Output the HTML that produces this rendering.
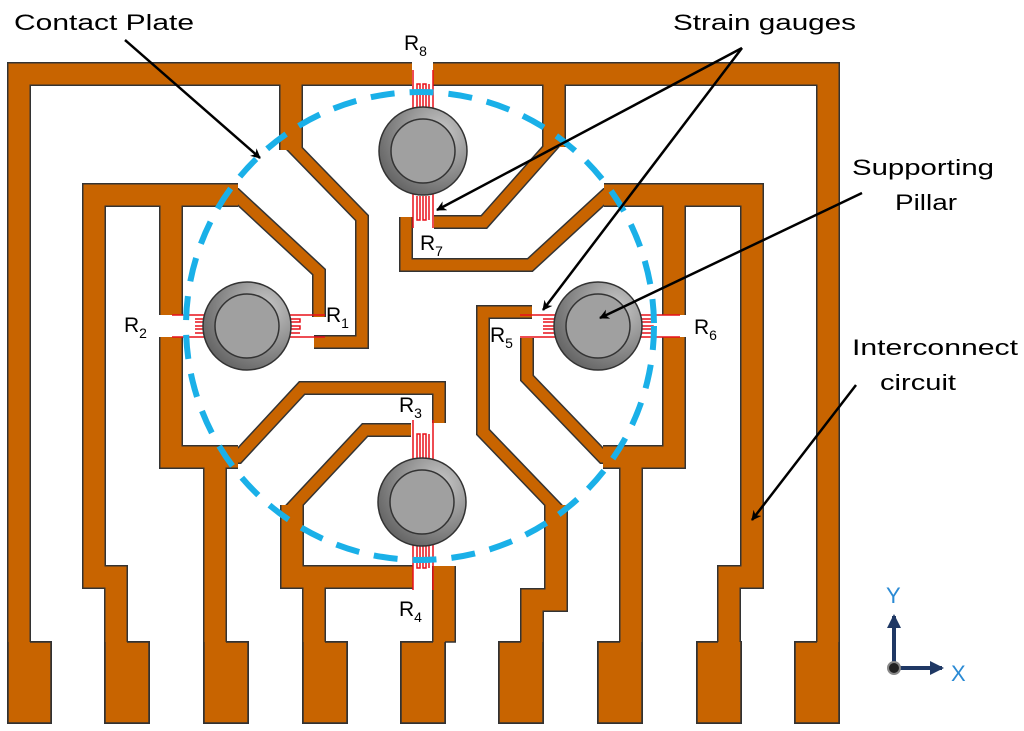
<!DOCTYPE html>
<html><head><meta charset="utf-8"><style>html,body{margin:0;padding:0;background:#fff}svg{display:block}</style></head>
<body>
<svg width="1024" height="731" viewBox="0 0 1024 731" xmlns="http://www.w3.org/2000/svg" font-family="Liberation Sans, sans-serif">
<defs>
<radialGradient id="pg" cx="0.7" cy="0.3" r="0.9"><stop offset="0" stop-color="#c8c8c8"/><stop offset="1" stop-color="#555"/></radialGradient>
<marker id="ah" markerWidth="10" markerHeight="10" refX="9" refY="5" orient="auto" markerUnits="userSpaceOnUse"><path d="M0,0 L10,5 L0,10 L3,5 z" fill="#000"/></marker>
<marker id="ab" markerWidth="14" markerHeight="14" refX="12" refY="7" orient="auto" markerUnits="userSpaceOnUse"><path d="M0,0 L14,7 L0,14 z" fill="#1f3864"/></marker>
<g id="w22">
<path d="M19,650 L19,74 L412,74"/>
<path d="M433,74 L828,74 L828,650"/>
<path d="M291,64 L291,150"/>
<path d="M554,64 L554,147"/>
<path d="M238,195 L94,195 L94,577 L116,577 L116,650"/>
<path d="M171,185 L171,315"/>
<path d="M604,195 L752,195 L752,577 L729,577 L729,650"/>
<path d="M674,185 L674,315"/>
<path d="M171,337 L171,457 L238,457"/>
<path d="M215,447 L215,650"/>
<path d="M674,337 L674,457 L603,457"/>
<path d="M631,447 L631,650"/>
<path d="M292,505 L292,577 L413,577"/>
<path d="M314,567 L314,650"/>
<path d="M444,566 L444,642"/>
<path d="M556,505 L556,600 L532,600 L532,650"/>
</g>
<g id="w14">
<path d="M291,138 L291,145 L362,218 L362,342 L314,342"/>
<path d="M228,195 L236,195 L319,272 L319,317"/>
<path d="M554,135 L554,143 L484,222 L434,222"/>
<path d="M406,217 L406,265 L530,265 L606,195 L614,195"/>
<path d="M230,457 L238,457 L302,388 L439,388 L439,423"/>
<path d="M411,430 L365,430 L292,508 L292,516"/>
<path d="M611,457 L603,457 L527,378 L527,338"/>
<path d="M532,312 L483,312 L483,432 L556,508 L556,516"/>
</g>
<g id="pads">
<rect x="8" y="642" width="43" height="81"/><rect x="105" y="642" width="44" height="81"/>
<rect x="204" y="642" width="44" height="81"/><rect x="303" y="642" width="44" height="81"/>
<rect x="401" y="642" width="44" height="81"/><rect x="499" y="642" width="44" height="81"/>
<rect x="598" y="642" width="44" height="81"/><rect x="697" y="642" width="44" height="81"/>
<rect x="795" y="642" width="44" height="81"/>
</g>
</defs>
<use href="#pads" fill="#c86400" stroke="#333" stroke-width="2"/>
<g fill="none" stroke-linejoin="miter" stroke-linecap="butt">
<use href="#w22" stroke="#333" stroke-width="24"/>
<use href="#w14" stroke="#333" stroke-width="14"/>
</g>
<g fill="none" stroke-linejoin="miter" stroke-linecap="butt">
<use href="#w22" stroke="#c86400" stroke-width="21"/>
<use href="#w14" stroke="#c86400" stroke-width="11"/>
</g>
<use href="#pads" fill="#c86400" stroke="none"/>
<g fill="none" stroke="#333" stroke-width="1.5">
<path d="M8,642 V723 H51 V642 M105,642 V723 H149 V642 M204,642 V723 H248 V642 M303,642 V723 H347 V642 M401,642 V723 H445 V642 M499,642 V723 H543 V642 M598,642 V723 H642 V642 M697,642 V723 H741 V642 M795,642 V723 H839 V642"/>
<path d="M30,642 H51 M127,642 H149 M226,642 H248 M325,642 H347 M401,642 H433 M445,642 H456 M499,642 H521 M598,642 H620 M697,642 H718 M795,642 H817"/>
</g>
<!-- strain gauges -->
<g stroke="#e8101a" stroke-width="1.5" fill="none">
<path d="M413,70 V110 M433,70 V110 M413,193 V228 M433,193 V228"/>
<path d="M417,108 V84 H420 V108 M423,108 V84 H426 V108 M429,108 V84"/>
<path d="M417,196 V220 H420 V196 M423,196 V220 H426 V196 M429,196 V220"/>
<path d="M172,315 H206 M172,337 H206 M288,315 H325 M288,337 H325"/>
<path d="M195,319 H212 V322 H195 M195,326 H212 V329 H195 M195,333 H212"/>
<path d="M283,319 H300 V322 H283 M283,326 H300 V329 H283 M283,333 H300"/>
<path d="M520,315 H558 M520,337 H558 M638,315 H680 M638,337 H680"/>
<path d="M543,319 H560 V322 H543 M543,326 H560 V329 H543 M543,333 H560"/>
<path d="M636,319 H653 V322 H636 M636,326 H653 V329 H636 M636,333 H653"/>
<path d="M413,420 V460 M433,420 V460 M413,544 V590 M433,544 V590"/>
<path d="M417,458 V434 H420 V458 M423,458 V434 H426 V458 M429,458 V434"/>
<path d="M417,546 V568 H420 V546 M423,546 V568 H426 V546 M429,546 V568"/>
</g>
<!-- pillars -->
<g stroke="#333" stroke-width="1.5">
<circle cx="423" cy="151" r="44" fill="url(#pg)"/><circle cx="423" cy="151" r="32" fill="#a0a0a0"/>
<circle cx="247" cy="326" r="44" fill="url(#pg)"/><circle cx="247" cy="326" r="32" fill="#a0a0a0"/>
<circle cx="598" cy="326" r="44" fill="url(#pg)"/><circle cx="598" cy="326" r="32" fill="#a0a0a0"/>
<circle cx="422" cy="502" r="44" fill="url(#pg)"/><circle cx="422" cy="502" r="32" fill="#a0a0a0"/>
</g>
<!-- dashed contact plate -->
<circle cx="420" cy="326" r="234" fill="none" stroke="#1ab0e8" stroke-width="6" stroke-dasharray="24 15"/>
<!-- arrows -->
<g stroke="#000" stroke-width="2.5" fill="none" marker-end="url(#ah)">
<line x1="125" y1="40" x2="260" y2="158"/>
<line x1="742" y1="48" x2="437" y2="210"/>
<line x1="742" y1="48" x2="543" y2="310"/>
<line x1="862" y1="193" x2="600" y2="318"/>
<line x1="856" y1="385" x2="752" y2="520"/>
</g>
<!-- labels -->
<g font-size="22" fill="#000">
<text x="14" y="30" textLength="180" lengthAdjust="spacingAndGlyphs">Contact Plate</text>
<text x="673" y="30" textLength="183" lengthAdjust="spacingAndGlyphs">Strain gauges</text>
<text x="852" y="175" textLength="142" lengthAdjust="spacingAndGlyphs">Supporting</text>
<text x="895" y="210" textLength="62" lengthAdjust="spacingAndGlyphs">Pillar</text>
<text x="852" y="355" textLength="166" lengthAdjust="spacingAndGlyphs">Interconnect</text>
<text x="880" y="390" textLength="76" lengthAdjust="spacingAndGlyphs">circuit</text>
</g>
<g font-size="21" fill="#000">
<text x="404" y="50">R<tspan font-size="14" dy="6">8</tspan></text>
<text x="420" y="250">R<tspan font-size="14" dy="6">7</tspan></text>
<text x="326" y="322">R<tspan font-size="14" dy="6">1</tspan></text>
<text x="124" y="332">R<tspan font-size="14" dy="6">2</tspan></text>
<text x="399" y="412">R<tspan font-size="14" dy="6">3</tspan></text>
<text x="399" y="616">R<tspan font-size="14" dy="6">4</tspan></text>
<text x="490" y="342">R<tspan font-size="14" dy="6">5</tspan></text>
<text x="694" y="334">R<tspan font-size="14" dy="6">6</tspan></text>
</g>
<!-- axes -->
<g stroke="#1f3864" stroke-width="4" fill="none">
<line x1="894" y1="668" x2="894" y2="616" marker-end="url(#ab)"/>
<line x1="894" y1="668" x2="942" y2="668" marker-end="url(#ab)"/>
</g>
<circle cx="894" cy="668" r="6" fill="#222" stroke="#888" stroke-width="2"/>
<g font-size="22" fill="#2a8ad4"><text x="886" y="603">Y</text><text x="951" y="681">X</text></g>
</svg>
</body></html>
